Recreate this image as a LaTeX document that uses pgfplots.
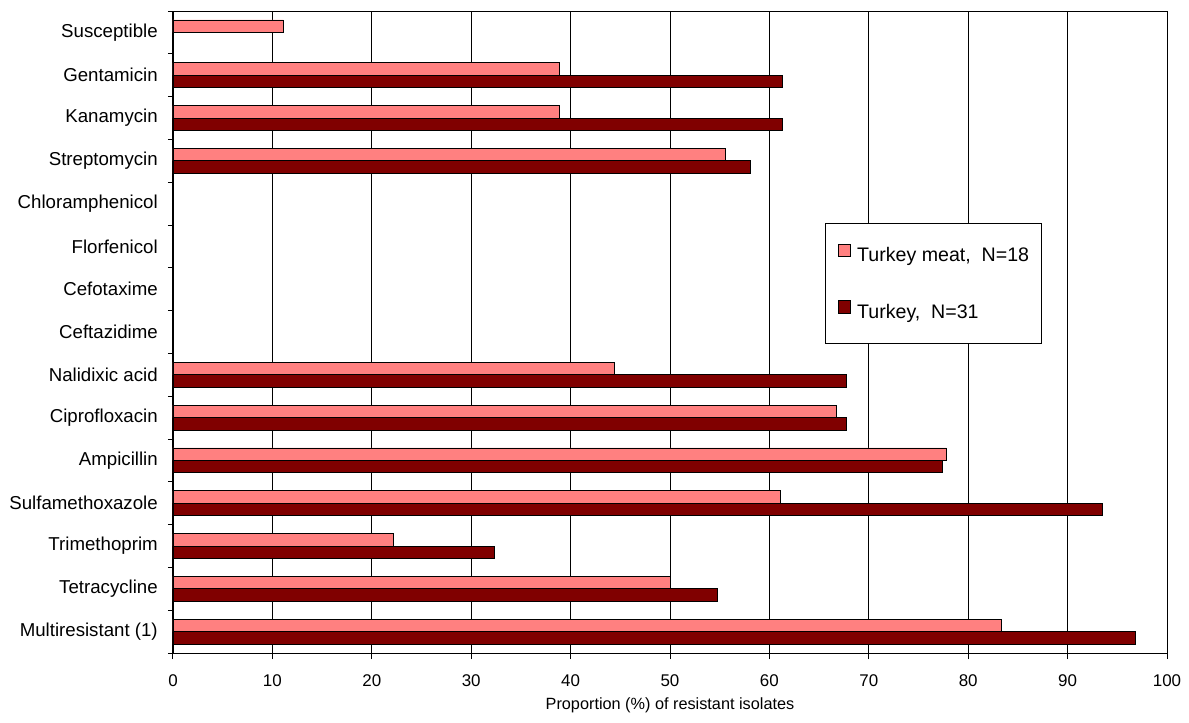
\documentclass[border=0pt]{standalone}
\usepackage{fontspec}
\setmainfont{Liberation Sans}
\usepackage{pgfplots}
\pgfplotsset{compat=1.18}
\definecolor{meat}{HTML}{FF8080}
\definecolor{turkey}{HTML}{800000}

\begin{document}
\begin{tikzpicture}
\begin{axis}[
  name=ax,
  at={(0,0)}, anchor=south west,
  scale only axis, width=745.5pt, height=481.5pt,
  xmin=0, xmax=100, ymin=-0.5, ymax=14.5, y dir=reverse,
  xtick={0,10,...,100},
  ytick={0,...,14},
  yticklabels={Susceptible,Gentamicin,Kanamycin,Streptomycin,Chloramphenicol,Florfenicol,Cefotaxime,Ceftazidime,Nalidixic acid,Ciprofloxacin,Ampicillin,Sulfamethoxazole,Trimethoprim,Tetracycline,Multiresistant (1)},
  minor ytick={-0.5,0.5,...,14.5},
  tick pos=left,
  tick align=outside,
  /pgf/number format/assume math mode=true,
  major tick length=4.5pt, minor tick length=3.75pt,
  major y tick style={draw=none},
  every tick/.append style={black, line width=0.75pt},
  axis line style={black, line width=0.75pt},
  xmajorgrids, grid style={black, line width=0.6pt},
  xticklabel style={font=\fontsize{12.7pt}{15pt}\selectfont, inner sep=0pt, anchor=north, yshift=-11.25pt},
  yticklabel style={font=\fontsize{14pt}{16pt}\selectfont, inner sep=0pt, anchor=east, xshift=-6.75pt},
  xlabel={Proportion (\%) of resistant isolates},
  x label style={font=\fontsize{12.2pt}{14pt}\selectfont, at={(axis description cs:0.5,-0.081)}, anchor=center},
  xbar, bar width=0.29,
  legend style={at={(0.656,0.670)}, anchor=north west, draw=black, fill=white, line width=0.75pt,
    font=\fontsize{14.7pt}{17pt}\selectfont, inner xsep=9.2pt, inner ysep=15.2pt,
    row sep=25.25pt, column sep=4.5pt,
    nodes={inner sep=0pt, text height=11pt, text depth=3.5pt}},
  legend cell align=left,
  legend image code/.code={\draw[#1, draw=black, line width=0.6pt] (0pt,0.3pt) rectangle (9.4pt,9.7pt);},
]
\addplot[fill=meat, draw=black, line width=0.6pt, bar shift=-0.145] coordinates {
  (11.1,0) (38.9,1) (38.9,2) (55.6,3) (44.4,8) (66.7,9) (77.8,10) (61.1,11) (22.2,12) (50.0,13) (83.3,14)};
\addplot[fill=turkey, draw=black, line width=0.6pt, bar shift=0.145] coordinates {
  (61.3,1) (61.3,2) (58.1,3) (67.7,8) (67.7,9) (77.4,10) (93.5,11) (32.3,12) (54.8,13) (96.8,14)};
\legend{{Turkey meat,\ \ N=18}, {Turkey,\ \ N=31}}
\end{axis}
\path ([shift={(-129.75pt,-51.75pt)}]ax.south west) rectangle ([shift={(16.5pt,8.25pt)}]ax.north east);
\end{tikzpicture}
\end{document}
